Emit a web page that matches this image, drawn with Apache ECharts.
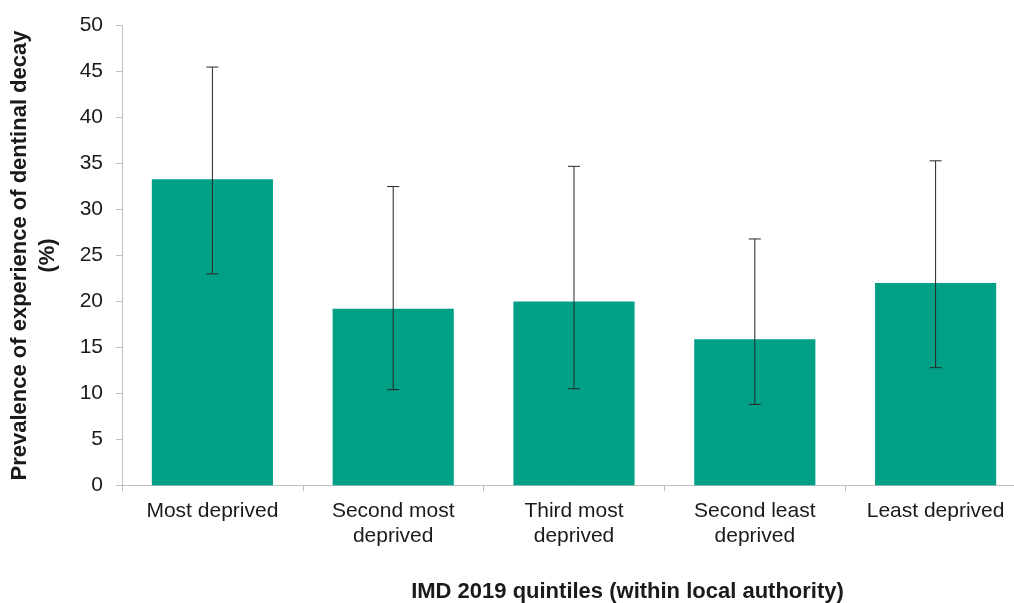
<!DOCTYPE html>
<html>
<head>
<meta charset="utf-8">
<script src="https://cdn.jsdelivr.net/npm/echarts@6/dist/echarts.min.js"></script>
<style>
  html, body { margin: 0; padding: 0; background: #ffffff; }
  #chart { width: 1014px; height: 603px; }
</style>
</head>
<body>
<div id="chart"></div>
<script>
// IMD 2019 quintiles and prevalence of dentinal decay (%) with 95% confidence limits
const categories = ['Most deprived', 'Second most\ndeprived', 'Third most\ndeprived', 'Second least\ndeprived', 'Least deprived'];
const prevalence = [33.3, 19.2, 20.0, 15.9, 22.0];
const lowerCI = [23.0, 10.4, 10.5, 8.8, 12.8];
const upperCI = [45.5, 32.5, 34.7, 26.8, 35.3];
const yTicks = { min: 0, max: 50, interval: 5 };

const barColor = '#00a087';
const axisGrey = '#bfbfbf';
const textColor = '#1a1a1a';
const font = '"Liberation Sans", Arial, sans-serif';

const errorData = categories.map((c, i) => [i, lowerCI[i], upperCI[i]]);

const chart = echarts.init(document.getElementById('chart'), null, { renderer: 'canvas' });

chart.setOption({
  animation: false,
  backgroundColor: '#ffffff',
  grid: {
    left: 122, top: 25.7, right: -12, bottom: 117.7,
    containLabel: false, outerBoundsMode: 'none'
  },
  xAxis: {
    type: 'category',
    data: categories,
    axisLine: { lineStyle: { color: axisGrey, width: 1 } },
    axisTick: { show: true, length: 6, lineStyle: { color: axisGrey } },
    axisLabel: {
      color: textColor, fontFamily: font, fontSize: 21, lineHeight: 25,
      margin: 13, interval: 0
    },
    splitLine: { show: false }
  },
  yAxis: {
    type: 'value',
    min: yTicks.min, max: yTicks.max, interval: yTicks.interval,
    name: 'Prevalence of experience of dentinal decay\n(%)',
    nameLocation: 'middle',
    nameRotate: 90,
    nameGap: 60,
    nameTextStyle: {
      color: textColor, fontFamily: font, fontSize: 22, fontWeight: 'bold',
      lineHeight: 28, align: 'center'
    },
    axisLine: { show: true, lineStyle: { color: axisGrey, width: 1 } },
    axisTick: { show: true, length: 6, lineStyle: { color: axisGrey } },
    axisLabel: { color: textColor, fontFamily: font, fontSize: 21, margin: 19 },
    splitLine: { show: false }
  },
  graphic: [{
    type: 'text',
    x: 627.5, y: 592,
    style: {
      text: 'IMD 2019 quintiles (within local authority)',
      fill: textColor, font: 'bold 22px "Liberation Sans", Arial, sans-serif',
      textAlign: 'center', textVerticalAlign: 'middle'
    }
  }],
  series: [
    {
      name: 'Prevalence',
      type: 'bar',
      data: prevalence,
      barWidth: '67%',
      itemStyle: { color: barColor },
      z: 2
    },
    {
      name: '95% CI',
      type: 'custom',
      data: errorData,
      z: 3,
      renderItem: function (params, api) {
        const x = api.value(0);
        const lo = api.coord([x, api.value(1)]);
        const hi = api.coord([x, api.value(2)]);
        const half = 6;
        const style = { stroke: '#262626', lineWidth: 1 };
        return {
          type: 'group',
          children: [
            { type: 'line', shape: { x1: hi[0], y1: hi[1], x2: lo[0], y2: lo[1] }, style: style },
            { type: 'line', shape: { x1: hi[0] - half, y1: hi[1], x2: hi[0] + half, y2: hi[1] }, style: style },
            { type: 'line', shape: { x1: lo[0] - half, y1: lo[1], x2: lo[0] + half, y2: lo[1] }, style: style }
          ]
        };
      }
    }
  ]
});
</script>
</body>
</html>
